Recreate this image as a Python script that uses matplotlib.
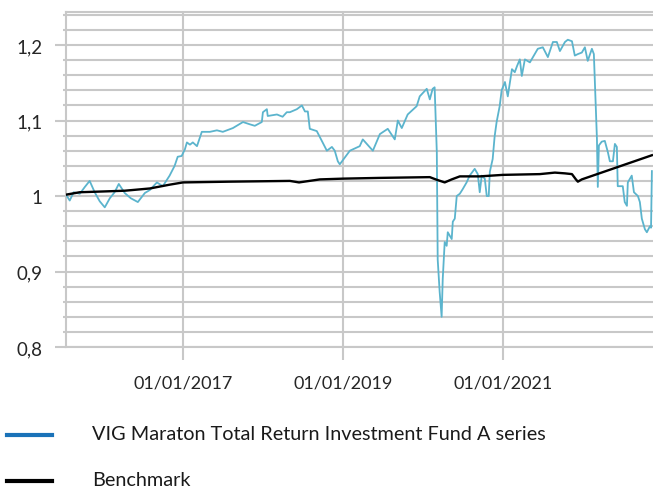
import matplotlib
matplotlib.use("Agg")
import matplotlib.pyplot as plt
from matplotlib.lines import Line2D
from matplotlib.ticker import FixedLocator
import pandas as pd

# ---------------- data ----------------
fund_dates = [
    "2015-07-21", "2015-08-03", "2015-08-21", "2015-09-18", "2015-10-11", "2015-11-02",
    "2015-11-25", "2015-12-18", "2016-01-10", "2016-02-02", "2016-02-24", "2016-03-14",
    "2016-04-10", "2016-05-08", "2016-06-09", "2016-07-11", "2016-08-03", "2016-09-04",
    "2016-10-01", "2016-11-01", "2016-11-24", "2016-12-08", "2016-12-26",
    "2017-01-10", "2017-01-19", "2017-02-02", "2017-02-15", "2017-03-06", "2017-03-28",
    "2017-05-04", "2017-06-05", "2017-07-02", "2017-08-17", "2017-10-02", "2017-11-02",
    "2017-11-25", "2017-12-27", "2018-01-01", "2018-01-19", "2018-01-23", "2018-03-06",
    "2018-04-01", "2018-04-20", "2018-05-04", "2018-06-05", "2018-06-28", "2018-07-12",
    "2018-07-25", "2018-08-03", "2018-09-04", "2018-10-20", "2018-11-12", "2018-11-25",
    "2018-12-09", "2018-12-18",
    "2019-02-02", "2019-03-19",
    "2019-04-02", "2019-05-18", "2019-06-19", "2019-07-25", "2019-08-26", "2019-09-09",
    "2019-09-27", "2019-10-24", "2019-12-04", "2019-12-18", "2020-01-19", "2020-02-02",
    "2020-02-15", "2020-02-24", "2020-02-29", "2020-03-05", "2020-03-09", "2020-03-18",
    "2020-03-27", "2020-04-01", "2020-04-10", "2020-04-19", "2020-04-24", "2020-05-12",
    "2020-05-17", "2020-05-26", "2020-06-04", "2020-06-18", "2020-07-01", "2020-07-19",
    "2020-08-02", "2020-08-25", "2020-09-08", "2020-09-17", "2020-09-26", "2020-10-10",
    "2020-10-19", "2020-10-28", "2020-11-02", "2020-11-15", "2020-11-24", "2020-12-03",
    "2020-12-17", "2020-12-26", "2021-01-10", "2021-01-23", "2021-02-11", "2021-02-24",
    "2021-03-06", "2021-03-19", "2021-03-28", "2021-04-11", "2021-05-04", "2021-05-18",
    "2021-06-09", "2021-07-02", "2021-07-25", "2021-08-17", "2021-09-04", "2021-09-18",
    "2021-10-11", "2021-10-24", "2021-11-12", "2021-11-25", "2021-12-09", "2021-12-27",
    "2022-01-10", "2022-01-23", "2022-02-11", "2022-02-20", "2022-02-24", "2022-03-06",
    "2022-03-10", "2022-03-15", "2022-03-28", "2022-04-11", "2022-04-25", "2022-05-04",
    "2022-05-18", "2022-05-27", "2022-06-05", "2022-06-09", "2022-07-02", "2022-07-11",
    "2022-07-21", "2022-07-25", "2022-08-12", "2022-08-22", "2022-09-09", "2022-09-18",
    "2022-09-27", "2022-10-11", "2022-10-20", "2022-11-03", "2022-11-08", "2022-11-12",
]
fund_values = [
    1.000, 0.994, 1.005, 1.003, 1.012, 1.020,
    1.005, 0.993, 0.985, 0.997, 1.005, 1.016,
    1.004, 0.997, 0.992, 1.004, 1.008, 1.018,
    1.013, 1.027, 1.040, 1.052, 1.053,
    1.062, 1.071, 1.068, 1.071, 1.066, 1.085,
    1.085, 1.087, 1.085, 1.090, 1.098, 1.095,
    1.093, 1.098, 1.111, 1.115, 1.106, 1.108,
    1.105, 1.111, 1.111, 1.115, 1.120, 1.112,
    1.112, 1.089, 1.086, 1.060, 1.065, 1.060,
    1.046, 1.042,
    1.060, 1.066,
    1.075, 1.060, 1.082, 1.089, 1.075, 1.100,
    1.090, 1.108, 1.119, 1.132, 1.142, 1.128,
    1.142, 1.144, 1.100, 1.058, 0.916, 0.873,
    0.840, 0.890, 0.939, 0.934, 0.952, 0.943,
    0.966, 0.970, 1.000, 1.003, 1.009, 1.018,
    1.027, 1.036, 1.029, 1.005, 1.027, 1.023,
    1.000, 1.000, 1.032, 1.049, 1.079, 1.098,
    1.119, 1.140, 1.151, 1.132, 1.168, 1.164,
    1.172, 1.181, 1.159, 1.181, 1.177, 1.184,
    1.195, 1.197, 1.184, 1.204, 1.204, 1.192,
    1.204, 1.207, 1.205, 1.186, 1.188, 1.190,
    1.197, 1.179, 1.195, 1.188, 1.155, 1.076,
    1.012, 1.067, 1.072, 1.073, 1.058, 1.046,
    1.046, 1.069, 1.065, 1.013, 1.013, 0.992,
    0.987, 1.018, 1.027, 1.005, 1.000, 0.992,
    0.970, 0.956, 0.952, 0.960, 0.958, 1.033,
]

bench_dates = [
    "2015-07-21", "2015-09-18", "2016-01-01", "2016-04-10", "2016-08-03", "2016-11-01",
    "2017-01-01", "2017-08-03", "2018-05-04", "2018-06-15", "2018-09-18", "2019-01-01",
    "2019-06-19", "2020-02-02", "2020-02-29", "2020-04-10", "2020-05-12", "2020-06-18",
    "2020-09-17", "2021-01-01", "2021-06-18", "2021-08-26", "2021-10-11", "2021-11-12",
    "2021-11-30", "2021-12-09", "2021-12-27", "2022-11-12",
]
bench_values = [
    1.002, 1.005, 1.006, 1.007, 1.010, 1.015,
    1.018, 1.019, 1.020, 1.018, 1.022, 1.023,
    1.024, 1.025, 1.022, 1.018, 1.022, 1.026,
    1.026, 1.028, 1.029, 1.031, 1.030, 1.029,
    1.022, 1.019, 1.022, 1.054,
]

x_tick_dates = ["2017-01-01", "2019-01-01", "2021-01-01"]
x_tick_labels = ["01/01/2017", "01/01/2019", "01/01/2021"]
y_major = [0.8, 0.9, 1.0, 1.1, 1.2]
y_labels = ["0,8", "0,9", "1", "1,1", "1,2"]
legend_labels = ["VIG Maraton Total Return Investment Fund A series", "Benchmark"]

# ---------------- figure ----------------
W, H = 653, 489
fig = plt.figure(figsize=(W / 100, H / 100), dpi=100)
ax = fig.add_axes([66 / W, 1 - 348 / H, 1 - 66 / W, (348 - 12.5) / H])

grid_c = "#c8c8c8"
fund_c = "#5bb4cd"

fd = pd.to_datetime(fund_dates)
bd = pd.to_datetime(bench_dates)

ax.plot(fd, fund_values, color=fund_c, lw=1.3, zorder=3)
ax.plot(bd, bench_values, color="black", lw=1.7, zorder=4)

ax.set_xlim(pd.Timestamp("2015-07-17"), pd.Timestamp("2022-11-17"))
ax.set_ylim(0.8, 1.2444)

# y ticks
ax.yaxis.set_major_locator(FixedLocator(y_major))
ax.set_yticklabels(y_labels)
minor = [round(0.8 + 0.02 * i, 2) for i in range(23)]
ax.yaxis.set_minor_locator(FixedLocator(minor))
ax.tick_params(axis="y", which="major", length=8, width=1.5, color=grid_c,
               pad=9, labelsize=13.5, labelcolor="#262626")
ax.tick_params(axis="y", which="minor", length=2.5, width=1.5, color=grid_c)

# x ticks
ax.set_xticks(pd.to_datetime(x_tick_dates))
ax.set_xticklabels(x_tick_labels)
ax.tick_params(axis="x", which="major", length=9, width=1.5, color=grid_c,
               pad=11, labelsize=13, labelcolor="#262626")
ax.tick_params(axis="x", which="minor", length=0)

for lab in ax.get_xticklabels() + ax.get_yticklabels():
    lab.set_family(["Lato", "DejaVu Sans"])

# grid
for v in minor:
    ax.axhline(v, color=grid_c, lw=1.5, zorder=1)
for d in x_tick_dates:
    ax.axvline(pd.Timestamp(d), color=grid_c, lw=1.5, zorder=1)

for s in ["left", "top", "bottom"]:
    ax.spines[s].set_color(grid_c)
    ax.spines[s].set_linewidth(1.5)
ax.spines["right"].set_visible(False)

# legend (manual)
leg_font = ["Lato", "DejaVu Sans"]
for i, (lab, col) in enumerate(zip(legend_labels, ["#1a72b8", "black"])):
    yp = [436, 482][i]
    fig.add_artist(Line2D([7 / W, 52 / W], [1 - yp / H, 1 - yp / H],
                          color=col, lw=3, transform=fig.transFigure))
    fig.text(92 / W, 1 - (yp - 1.5) / H, lab, family=leg_font, fontsize=14.3,
             va="center", ha="left", color="#1a1a1a")

fig.savefig("out.png", dpi=100)
